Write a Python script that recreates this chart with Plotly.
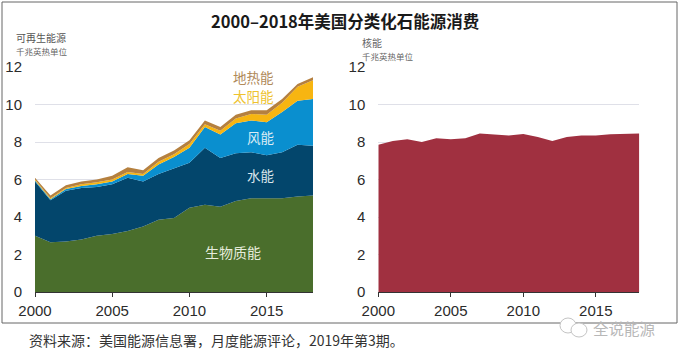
import plotly.graph_objects as go

years = list(range(2000, 2019))
biomass = [3.0,2.65,2.7,2.8,3.0,3.1,3.25,3.5,3.85,3.95,4.5,4.65,4.55,4.85,5.0,5.0,5.0,5.1,5.15]
hydro = [2.9,2.25,2.7,2.75,2.6,2.65,2.85,2.4,2.45,2.65,2.4,3.05,2.6,2.55,2.45,2.3,2.45,2.75,2.65]
wind = [.05,.05,.1,.1,.15,.15,.2,.3,.5,.6,.8,1.1,1.25,1.6,1.7,1.75,2.15,2.35,2.5]
solar = [.05,.05,.05,.1,.1,.1,.1,.1,.15,.15,.2,.15,.2,.25,.35,.4,.5,.75,1.0]
geothermal = [.1,.15,.15,.15,.15,.2,.25,.2,.2,.2,.2,.2,.2,.2,.2,.25,.2,.15,.15]
nuclear = [7.85,8.05,8.15,8.0,8.2,8.15,8.2,8.45,8.4,8.35,8.43,8.27,8.05,8.27,8.35,8.35,8.42,8.42,8.45]
y_ticks = [0,2,4,6,8,10,12]
x_ticks = [2000,2005,2010,2015]

W, H = 682, 350
CJK = "Noto Sans CJK SC"
LAT = "Liberation Sans"
px = lambda v: v / W
py = lambda v: 1 - v / H

fig = go.Figure()
for name, vals, col in [("生物质能", biomass, "#4a6e2c"), ("水能", hydro, "#03466c"),
                        ("风能", wind, "#0a8fcf"), ("太阳能", solar, "#f7b511"),
                        ("地热能", geothermal, "#b5803f")]:
    fig.add_trace(go.Scatter(x=years, y=vals, name=name, stackgroup="a", mode="lines",
                             line=dict(width=0, color=col), fillcolor=col,
                             xaxis="x", yaxis="y", showlegend=False))
fig.add_trace(go.Scatter(x=years, y=nuclear, name="核能", mode="lines", fill="tozeroy",
                         line=dict(width=0, color="#a03040"), fillcolor="#a03040",
                         xaxis="x2", yaxis="y2", showlegend=False))

xa = dict(range=[2000, 2018], tickmode="array", tickvals=x_ticks, ticks="outside", ticklen=4,
          tickcolor="#333", showgrid=False, showline=True, linecolor="#333", linewidth=1,
          zeroline=False, automargin=False, ticklabelstandoff=1,
          tickfont=dict(family=LAT, size=15, color="#2b2b2b"))
ya = dict(range=[0, 12], tickmode="array", tickvals=y_ticks, showgrid=True, gridcolor="#dfe0e8",
          gridwidth=1, zeroline=False, showline=False, ticks="", automargin=False,
          ticklabelstandoff=12, tickfont=dict(family=LAT, size=15, color="#2b2b2b"))
dom_y = [py(292), py(67)]

fig.update_layout(
    width=W, height=H, autosize=False, margin=dict(l=0, r=0, t=0, b=0),
    paper_bgcolor="white", plot_bgcolor="white",
    xaxis=dict(xa, domain=[px(35), px(313)], anchor="y"),
    yaxis=dict(ya, domain=dom_y, anchor="x"),
    xaxis2=dict(xa, domain=[px(378.3), px(639.3)], anchor="y2"),
    yaxis2=dict(ya, domain=dom_y, anchor="x2"),
)

def label(x, y, text, size, color, family=CJK, anchor="center"):
    fig.add_annotation(xref="paper", yref="paper", x=px(x), y=py(y), text=text, showarrow=False,
                       xanchor=anchor, yanchor="middle", borderpad=0,
                       font=dict(family=family, size=size, color=color))

label(345, 21, "<b>2000–2018年美国分类化石能源消费</b>", 16.5, "#1a1a1a")
label(15, 38, "可再生能源", 10, "#555555", anchor="left")
label(15, 51.5, "千兆英热单位", 8.5, "#666666", anchor="left")
label(361, 42, "核能", 10, "#666666", anchor="left")
label(361, 55.5, "千兆英热单位", 8.5, "#666666", anchor="left")
label(253, 77, "地热能", 13.5, "#b08a5a")
label(253, 96, "太阳能", 13.5, "#eec22e")
label(260, 137, "风能", 13.5, "#dcecf5")
label(260, 175, "水能", 13.5, "#dce6ec")
label(233, 252, "生物质能", 14, "#e6ecdc")
label(28, 340, "资料来源：美国能源信息署，月度能源评论，2019年第3期。", 14, "#333333", anchor="left")

# frame
fig.add_shape(type="rect", xref="paper", yref="paper", x0=px(2), x1=px(677), y0=py(323), y1=py(2),
              line=dict(color="#666666", width=1), layer="below")
# watermark icon
fig.add_shape(type="circle", xref="paper", yref="paper", x0=px(560), x1=px(576), y0=py(333), y1=py(318),
              line=dict(color="#c4c4c4", width=1), fillcolor="white")
fig.add_shape(type="circle", xref="paper", yref="paper", x0=px(571), x1=px(587), y0=py(337), y1=py(323),
              line=dict(color="#c4c4c4", width=1), fillcolor="white")
label(623.5, 328, "全说能源", 15.5, "#b8b8b8")

fig.write_html("out.html", config={"displayModeBar": False},
               post_script="document.body.style.margin='0';document.documentElement.style.overflow='hidden';")
